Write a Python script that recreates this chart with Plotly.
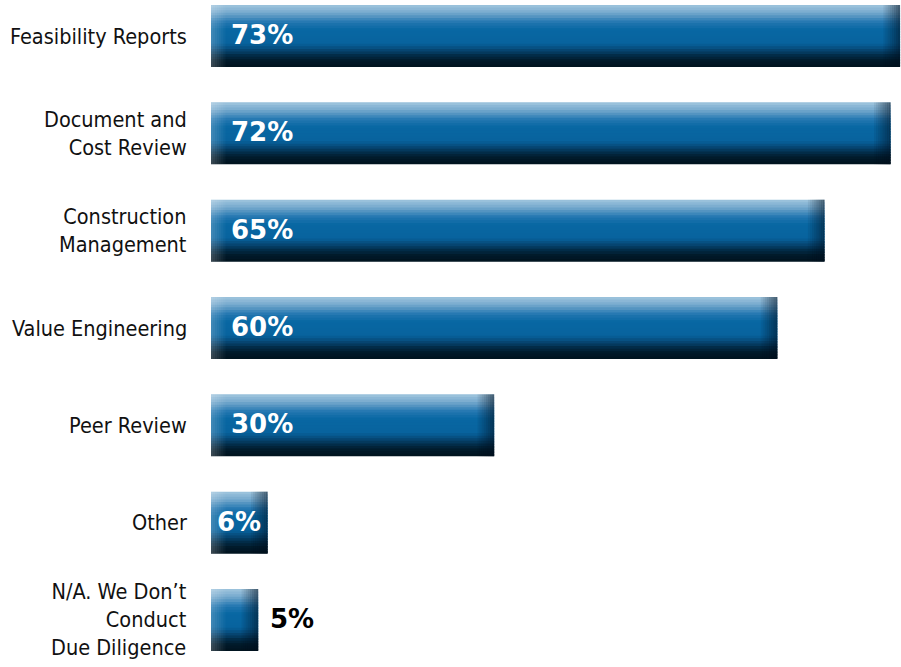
import plotly.graph_objects as go

# Survey data: share of respondents offering each due-diligence service
categories = [
    "Feasibility Reports",
    "Document and<br>Cost Review",
    "Construction<br>Management",
    "Value Engineering",
    "Peer Review",
    "Other",
    "N/A. We Don\u2019t<br>Conduct<br>Due Diligence",
]
values = [73, 72, 65, 60, 30, 6, 5]
value_labels = ["73%", "72%", "65%", "60%", "30%", "6%", "5%"]

positions = list(range(len(categories)))

# Vertical shading profile of each bar (fraction from top -> colour)
profile = [
    (0.00, (160, 198, 222)),
    (0.12, (120, 170, 206)),
    (0.28, (34, 118, 176)),
    (0.40, (8, 103, 163)),
    (0.62, (8, 99, 158)),
    (0.72, (6, 72, 118)),
    (0.82, (2, 42, 68)),
    (0.90, (1, 26, 42)),
    (1.00, (0, 18, 30)),
]


def shade(t):
    for (t0, c0), (t1, c1) in zip(profile, profile[1:]):
        if t0 <= t <= t1:
            f = (t - t0) / (t1 - t0) if t1 > t0 else 0
            return "rgb(%d,%d,%d)" % tuple(round(a + (b - a) * f) for a, b in zip(c0, c1))
    return "rgb(%d,%d,%d)" % profile[-1][1]


BAR_H = 0.637
N_SLICES = 24
OVERLAP = 0.02
X_MAX = 73.1

fig = go.Figure()

# Horizontal bands that build the vertical gradient (each overlaps the next
# slightly so no background shows between them)
step = BAR_H / N_SLICES
for j in range(N_SLICES):
    t = (j + 0.5) / N_SLICES
    fig.add_trace(go.Bar(
        x=values, y=positions, orientation="h",
        width=min(step + OVERLAP, BAR_H - j * step),
        offset=-BAR_H / 2 + j * step,
        marker=dict(color=shade(t), line=dict(width=0)),
        hoverinfo="skip",
    ))

# Soft highlight along the left end of each bar
STRIP = 0.22
for k in range(7):
    fig.add_trace(go.Bar(
        x=[STRIP] * len(values), base=[STRIP * k] * len(values), y=positions,
        orientation="h", width=BAR_H, offset=-BAR_H / 2,
        marker=dict(color="rgba(255,255,255,%.3f)" % (0.22 * (1 - k / 7)), line=dict(width=0)),
        hoverinfo="skip",
    ))

# Darkening toward the right end of each bar
for k in range(8):
    fig.add_trace(go.Bar(
        x=[STRIP] * len(values), base=[v - STRIP * (k + 1) for v in values], y=positions,
        orientation="h", width=BAR_H, offset=-BAR_H / 2,
        marker=dict(color="rgba(0,15,30,%.3f)" % (0.55 * (1 - k / 8)), line=dict(width=0)),
        hoverinfo="skip",
    ))

annotations = []
# Category labels to the left of the bars
for p, name in zip(positions, categories):
    annotations.append(dict(
        xref="paper", x=0, yref="y", y=p, xanchor="right", yanchor="middle",
        xshift=-22, text=name, showarrow=False, align="right",
        font=dict(family="DejaVu Sans Condensed, Liberation Sans Narrow, sans-serif",
                  size=21.5, color="#111111"),
    ))

# Value labels: inside the bar when there is room, otherwise just past its end
for p, v, lab in zip(positions, values, value_labels):
    if v >= 10:
        a = dict(x=0, xshift=18, xanchor="left", color="white")
    elif v > 5:
        a = dict(x=v / 2, xshift=0, xanchor="center", color="white")
    else:
        a = dict(x=v, xshift=10, xanchor="left", color="black")
    annotations.append(dict(
        xref="x", x=a["x"], yref="y", y=p, xanchor=a["xanchor"], yanchor="middle",
        xshift=a["xshift"], yshift=1, text=lab, showarrow=False,
        font=dict(family="DejaVu Sans, sans-serif", size=26, color=a["color"], weight="bold"),
    ))

fig.update_layout(
    width=901, height=667,
    margin=dict(l=211, r=0, t=0, b=0),
    paper_bgcolor="white", plot_bgcolor="white",
    barmode="overlay", showlegend=False,
    xaxis=dict(range=[0, X_MAX], visible=False, fixedrange=True),
    yaxis=dict(range=[6.483, -0.37], visible=False, fixedrange=True),
    annotations=annotations,
)

fig.write_html("out.html")
